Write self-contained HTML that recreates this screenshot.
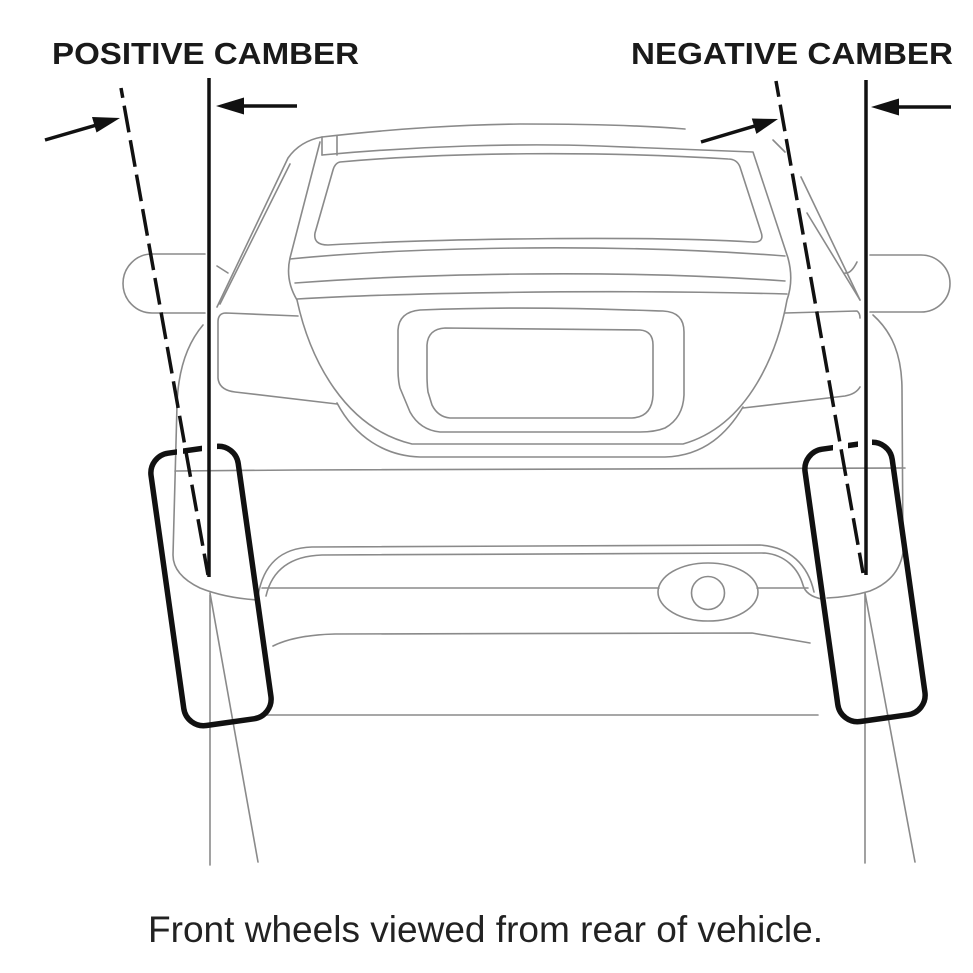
<!DOCTYPE html>
<html><head><meta charset="utf-8"><style>
html,body{margin:0;padding:0;background:#fff;}
svg{display:block;}
</style></head><body>
<svg width="973" height="973" viewBox="0 0 973 973" xmlns="http://www.w3.org/2000/svg">
<rect width="973" height="973" fill="#fff"/>
<g fill="none" stroke="#8a8a8a" stroke-width="1.6" stroke-linecap="round" stroke-linejoin="round">
  <!-- roof -->
  <path d="M322,137 C400,128 460,125 520,124 C600,124 650,126 685,129"/>
  <path d="M322,137 Q300,141 288,158 L217,307"/>
  <path d="M290,164 L220,304"/>
  <path d="M217,266 L228,273"/>
  <path d="M322,137 L322,155 M337,136 L337,155"/>
  <!-- roof rear edge + pillars + trunk arc -->
  <path d="M322,155 C420,146 520,143 600,146 C680,149 720,151 753,152 L788,258 Q794,280 787,300 C778,350 750,425 683,444 L412,444 C345,428 310,360 297,300 Q285,280 290,258 L320,142"/>
  <!-- window -->
  <path d="M340,162 Q335,163 333,170 L315,233 Q313,245 328,245 C450,238 650,236 752,242 Q765,243 761,232 L740,167 Q737,159 728,159 C600,151 450,152 340,162 Z"/>
  <!-- bands -->
  <path d="M290,259 C400,248 600,242 785,256"/>
  <path d="M295,283 C400,275 600,268 785,281"/>
  <path d="M297,299 C400,293 600,289 787,294"/>
  <!-- tail lights -->
  <path d="M298,316 L226,313 Q218,313 218,322 L218,378 Q219,390 235,392 L337,404"/>
  <path d="M785,313 L857,311 Q860,313 860,318"/>
  <path d="M743,408 L845,396 Q856,394 860,387"/>
  <!-- lower trunk curve -->
  <path d="M337,403 C355,437 385,456 420,457 L665,457 C705,456 728,432 743,407"/>
  <!-- plate recess -->
  <path d="M420,310 C520,306 600,309 663,311 Q684,312 684,332 L684,395 Q683,418 665,428 Q655,432 640,432 L440,432 Q420,430 410,412 L400,388 Q398,380 398,370 L398,330 Q399,312 420,310 Z"/>
  <path d="M445,328 L640,330 Q653,331 653,345 L653,395 Q652,417 632,418 L450,418 Q438,417 432,405 L428,392 Q427,385 427,375 L427,345 Q428,329 445,328 Z"/>
  <!-- mirrors -->
  <path d="M205,254 L152,254 A29 29.5 0 0 0 152,313 L205,313"/>
  <path d="M870,255 L921,255 A29 28.5 0 0 1 921,312 L870,312"/>
  <!-- body sides -->
  <path d="M203,325 C186,345 178,372 177,405 L173,555 Q173,575 200,588 Q225,598 258,600"/>
  <path d="M873,315 C892,332 902,355 902,390 L903,553 Q898,580 870,591 Q850,597 827,598"/>
  <!-- right sliver -->
  <path d="M801,177 L860,300"/>
  <path d="M807,213 L860,300"/>
  <path d="M845,273 Q851,274 857,262"/>
  <path d="M773,140 L785,152"/>
  <!-- bumper -->
  <path d="M175,471 L300,470 L905,468"/>
  <path d="M258,596 C263,565 280,548 312,547 L760,545 C790,547 808,565 814,592"/>
  <path d="M266,596 C272,570 290,556 322,555 L765,553 C785,555 798,568 803,585 Q806,596 822,599"/>
  <path d="M262,588 L659,588 M757,588 L808,588"/>
  <ellipse cx="708" cy="592" rx="50" ry="29"/>
  <circle cx="708" cy="593" r="16.5"/>
  <path d="M273,646 Q295,635 335,634 L752,633 L810,643"/>
  <path d="M267,715 L818,715"/>
  <!-- ground lines -->
  <path d="M210,595 L210,865 M210,593 L258,862"/>
  <path d="M865,593 L865,863 M865,593 L915,862"/>
</g>
<!-- wheels -->
<g fill="none" stroke="#111" stroke-width="5.5">
  <rect x="-44" y="-137.5" width="88" height="275" rx="20" transform="translate(211,586) rotate(-8)"/>
  <rect x="-44" y="-137.5" width="88" height="275" rx="20" transform="translate(865,582) rotate(-8)"/>
</g>
<!-- gaps in wheel tops -->
<g fill="#fff">
  <rect x="177" y="440" width="6" height="16"/>
  <rect x="202" y="437" width="15" height="18"/>
  <rect x="833" y="439" width="15" height="16"/>
  <rect x="858" y="434" width="14" height="18"/>
</g>
<!-- camber lines -->
<g stroke="#111" stroke-width="3.5" fill="none">
  <line x1="209" y1="78" x2="209" y2="577"/>
  <line x1="866" y1="80" x2="866" y2="575"/>
  <line x1="121" y1="88" x2="208" y2="575" stroke-dasharray="27 8" stroke-dashoffset="17"/>
  <line x1="776" y1="81" x2="863" y2="573" stroke-dasharray="27 8" stroke-dashoffset="11"/>
  <line x1="297" y1="106" x2="238" y2="106"/>
  <line x1="45" y1="140" x2="100" y2="124"/>
  <line x1="951" y1="107" x2="893" y2="107"/>
  <line x1="701" y1="142" x2="758" y2="125"/>
</g>
<g fill="#111">
  <polygon points="216,106 244,97.5 244,114.5"/>
  <polygon points="120,118 96.5,132.5 92,117"/>
  <polygon points="871,107 899,98.5 899,115.5"/>
  <polygon points="778,119 756.4,133.9 751.8,118.5"/>
</g>
<!-- text -->
<g font-family="'Liberation Sans', Arial, sans-serif" fill="#1a1a1a">
  <text x="52" y="64" font-size="31" font-weight="bold" textLength="307" lengthAdjust="spacingAndGlyphs">POSITIVE CAMBER</text>
  <text x="631" y="64" font-size="31" font-weight="bold" textLength="322" lengthAdjust="spacingAndGlyphs">NEGATIVE CAMBER</text>
  <text x="148" y="942" font-size="37" textLength="675" lengthAdjust="spacingAndGlyphs" fill="#222">Front wheels viewed from rear of vehicle.</text>
</g>
</svg>
</body></html>
